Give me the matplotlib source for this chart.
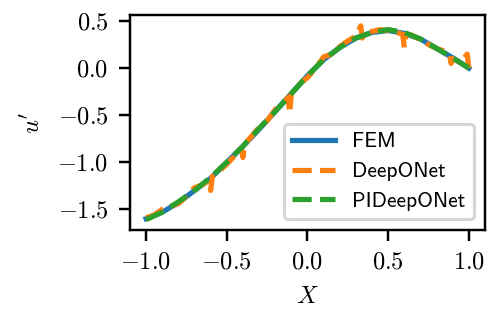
import numpy as np
import matplotlib
matplotlib.use("Agg")
import matplotlib.pyplot as plt

# FEM reference solution
x_fem = [-1.0, -0.9, -0.8, -0.7, -0.6, -0.5, -0.4, -0.3, -0.2, -0.1, 0.0,
         0.1, 0.2, 0.3, 0.4, 0.5, 0.6, 0.7, 0.8, 0.9, 1.0]
u_fem = [-1.60, -1.53, -1.43, -1.30, -1.17, -1.00, -0.83, -0.65, -0.46, -0.27, -0.08,
         0.09, 0.22, 0.32, 0.38, 0.40, 0.37, 0.31, 0.21, 0.11, 0.00]

# PIDeepONet, almost on top of FEM
u_pi = [-1.61, -1.53, -1.42, -1.30, -1.16, -1.00, -0.83, -0.64, -0.46, -0.27, -0.08,
        0.09, 0.22, 0.32, 0.38, 0.41, 0.38, 0.31, 0.21, 0.11, 0.00]

# DeepONet, jagged
x_deep = [-1.0, -0.95, -0.9, -0.85, -0.8, -0.75, -0.7, -0.65, -0.61, -0.60, -0.59,
          -0.55, -0.5, -0.45, -0.41, -0.40, -0.39, -0.35, -0.3, -0.25, -0.2, -0.15,
          -0.12, -0.11, -0.10, -0.05, 0.0, 0.05, 0.1, 0.15, 0.2, 0.25, 0.3, 0.33,
          0.34, 0.35, 0.4, 0.45, 0.5, 0.55, 0.59, 0.60, 0.61, 0.65, 0.7, 0.75,
          0.8, 0.85, 0.88, 0.89, 0.9, 0.95, 0.99, 1.0]
u_deep = [-1.59, -1.56, -1.50, -1.47, -1.44, -1.36, -1.27, -1.24, -1.19, -1.30, -1.15,
          -1.10, -1.02, -0.93, -0.85, -0.95, -0.81, -0.73, -0.63, -0.56, -0.44, -0.37,
          -0.31, -0.48, -0.27, -0.17, -0.10, 0.00, 0.12, 0.15, 0.23, 0.29, 0.34, 0.45,
          0.32, 0.36, 0.39, 0.41, 0.40, 0.38, 0.36, 0.22, 0.36, 0.35, 0.30, 0.25,
          0.21, 0.18, 0.14, 0.05, 0.10, 0.06, 0.15, 0.00]

plt.rcParams['font.family'] = 'cmr10'
plt.rcParams['mathtext.fontset'] = 'cm'
plt.rcParams['axes.formatter.use_mathtext'] = True
plt.rcParams['font.size'] = 8
plt.rcParams['lines.linewidth'] = 1.7

dpi = 220
fig = plt.figure(figsize=(503 / dpi, 314 / dpi), dpi=dpi)
ax = fig.add_axes([0.2584, 0.2675, 0.7058, 0.6847])

ax.plot(x_fem, u_fem, '-', color='tab:blue', label='FEM')
ax.plot(x_deep, u_deep, '--', color='tab:orange', label='DeepONet')
ax.plot(x_fem, u_pi, '--', color='tab:green', label='PIDeepONet')

ax.set_xlim(-1.1, 1.1)
ax.set_ylim(-1.72, 0.565)
ax.set_xticks([-1.0, -0.5, 0.0, 0.5, 1.0])
ax.set_yticks([-1.5, -1.0, -0.5, 0.0, 0.5])
ax.set_xlabel(r'$X$')
ax.set_ylabel(r"$u'$")
ax.legend(loc='lower right', prop={'family': 'cmss10', 'size': 7})

fig.savefig('out.png', dpi=dpi)
